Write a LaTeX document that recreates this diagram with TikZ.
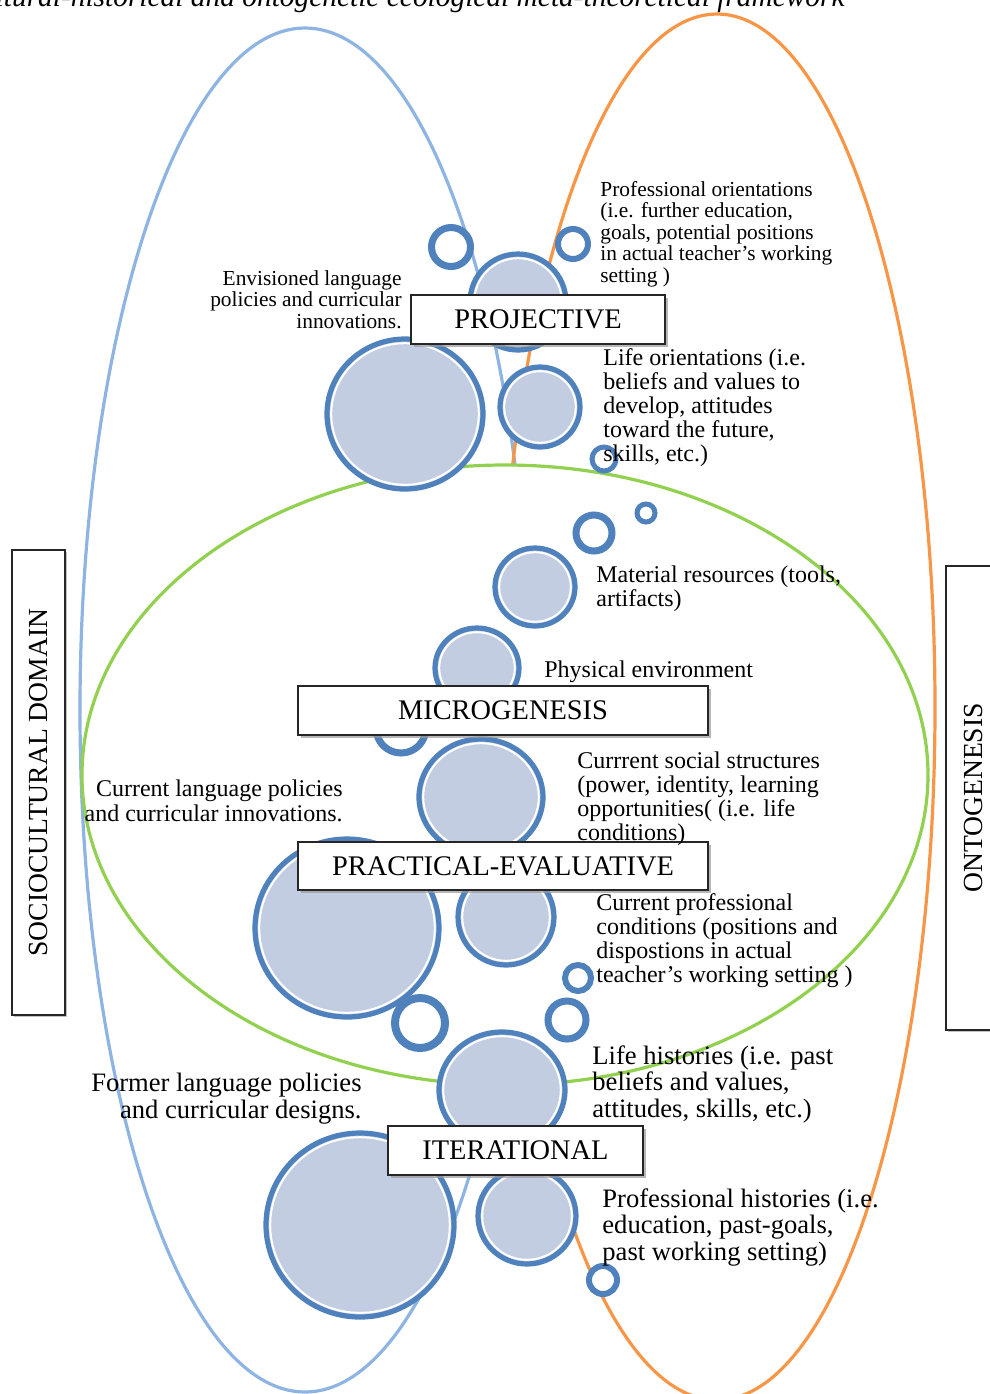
\documentclass[tikz,border=0pt]{standalone}
\usepackage{fontspec}
\setmainfont{Liberation Serif}
\usetikzlibrary{shapes.geometric,shadows}
\definecolor{ringc}{HTML}{4F81BD}
\definecolor{bubf}{HTML}{C2CDE2}
\definecolor{lblue}{HTML}{8DB4E2}
\definecolor{orng}{HTML}{F79646}
\definecolor{grn}{HTML}{92D050}
\tikzset{
  bubnode/.style={ellipse, inner sep=0pt, outer sep=0pt, fill=bubf, draw=ringc, line width=2.6pt},
  ringnode/.style={circle, inner sep=0pt, outer sep=0pt, fill=white, draw=ringc},
  domainline/.style={line width=1.6pt},
  lblbox/.style={draw=black!85, fill=white, line width=0.9pt, inner sep=0pt,
     font=\fontsize{14.2}{15}\selectfont,
     drop shadow={shadow xshift=1.3pt, shadow yshift=-1.3pt, fill=black!40, opacity=0.7}},
  sidebox/.style={draw=black!85, fill=white, line width=0.9pt, inner sep=0pt, rotate=90,
     font=\fontsize{13.8}{15}\selectfont,
     drop shadow={shadow xshift=1pt, shadow yshift=-1pt, fill=black!40, opacity=0.6}},
  txtS/.style={inner sep=0pt, font=\fontsize{10.7}{10.75}\selectfont},
  txtM/.style={inner sep=0pt, font=\fontsize{12}{12}\selectfont},
  txtL/.style={inner sep=0pt, font=\fontsize{13.3}{13.25}\selectfont},
}
\newcommand\bub[5]{%
  \node[bubnode, minimum width=#4pt, minimum height=#5pt] (#1) at (#2,#3) {};
  \draw[white, line width=1pt] (#1.center) ellipse [x radius=#4-4.2, y radius=#5-4.2];}
\newcommand\rng[5]{%
  \node[ringnode, minimum size=#4pt, line width=#5pt] (#1) at (#2,#3) {};}
\begin{document}
\begin{tikzpicture}[x=0.5pt,y=-0.5pt]
\useasboundingbox (0,0) rectangle (990,1394);
% title (cut off by the page edge, as in the reference)
\node[anchor=base east, inner sep=0pt, font=\itshape\fontsize{14.7}{16}\selectfont] (title) at (845,6)
  {cultural-historical and ontogenetic ecological meta-theoretical framework};
% domain ellipses
\draw[domainline, lblue] (305,710) ellipse [x radius=225, y radius=682];
\draw[domainline, orng] (717,707) ellipse [x radius=218, y radius=693];
\draw[domainline, grn, fill=white] (505,775) ellipse [x radius=423, y radius=310];
% bubbles and rings
\rng{r1}{451}{247}{19.5}{3.5}
\rng{r2}{573}{244}{15}{3}
\bub{b3}{518}{302}{48}{48}
\bub{b4}{405}{414}{78}{75}
\bub{b5}{540}{407}{40}{40}
\rng{r6}{604}{459}{12}{2.5}
\rng{r7}{594}{533}{18}{3.5}
\rng{r8}{646}{513}{9}{2.5}
\bub{b9}{535}{587}{40}{39}
\bub{b10}{477}{668}{42}{40}
\rng{r11}{401}{728}{25}{3.5}
\bub{b12}{481}{797}{62}{58}
\bub{b13}{347}{928}{92}{89}
\bub{b14}{506}{917}{48}{48}
\rng{r15}{578}{978}{13}{3}
\rng{r16}{420}{1023}{25}{4}
\rng{r17}{567}{1020}{19}{3.5}
\bub{b18}{502}{1090}{63}{58}
\bub{b19}{360}{1225}{94}{92}
\bub{b20}{527}{1216}{49}{48}
\rng{r21}{603}{1280}{14}{3}
% label boxes
\node[lblbox, minimum width=127pt, minimum height=24.5pt] (proj) at (538,319.5) {PROJECTIVE};
\node[lblbox, minimum width=205pt, minimum height=24.5pt] (micro) at (503,710.5) {MICROGENESIS};
\node[lblbox, minimum width=205pt, minimum height=24pt] (pract) at (503,866) {PRACTICAL-EVALUATIVE};
\node[lblbox, minimum width=127.5pt, minimum height=24.5pt] (iter) at (515.5,1150.5) {ITERATIONAL};
\node[sidebox, minimum width=232.5pt, minimum height=26.5pt] (socio) at (38.5,782.5) {SOCIOCULTURAL DOMAIN};
\node[sidebox, minimum width=232pt, minimum height=27pt] (onto) at (973,798) {ONTOGENESIS};
% texts
\node[txtS, anchor=north east, align=right] (t1) at (402,270) {Envisioned language\\policies and curricular\\innovations.};
\node[txtS, anchor=north west, align=left] (t2) at (600,181) {Professional orientations\\(i.e. further education,\\goals, potential positions\\in actual teacher's working\\setting )};
\node[txtM, anchor=north west, align=left] (t3) at (603,348) {Life orientations (i.e.\\beliefs and values to\\develop, attitudes\\toward the future,\\skills, etc.)};
\node[txtM, anchor=north west, align=left] (t4) at (596,565) {Material resources (tools,\\artifacts)};
\node[txtM, anchor=north west, align=left] (t5) at (544,660) {Physical environment};
\node[txtM, anchor=north west, align=left] (t6) at (577,751) {Currrent social structures\\(power, identity, learning\\opportunities( (i.e. life\\conditions)};
\node[txtM, anchor=north east, align=right, font=\fontsize{12}{12.5}\selectfont] (t7) at (343,779) {Current language policies\\and curricular innovations.};
\node[txtM, anchor=north west, align=left] (t8) at (596,893) {Current professional\\conditions (positions and\\dispostions in actual\\teacher's working setting )};
\node[txtL, anchor=north west, align=left] (t9) at (592,1045) {Life histories (i.e. past\\beliefs and values,\\attitudes, skills, etc.)};
\node[txtL, anchor=north east, align=right] (t10) at (362,1073) {Former language policies\\and curricular designs.};
\node[txtL, anchor=north west, align=left] (t11) at (602,1188) {Professional histories (i.e.\\education, past-goals,\\past working setting)};
\end{tikzpicture}
\end{document}
